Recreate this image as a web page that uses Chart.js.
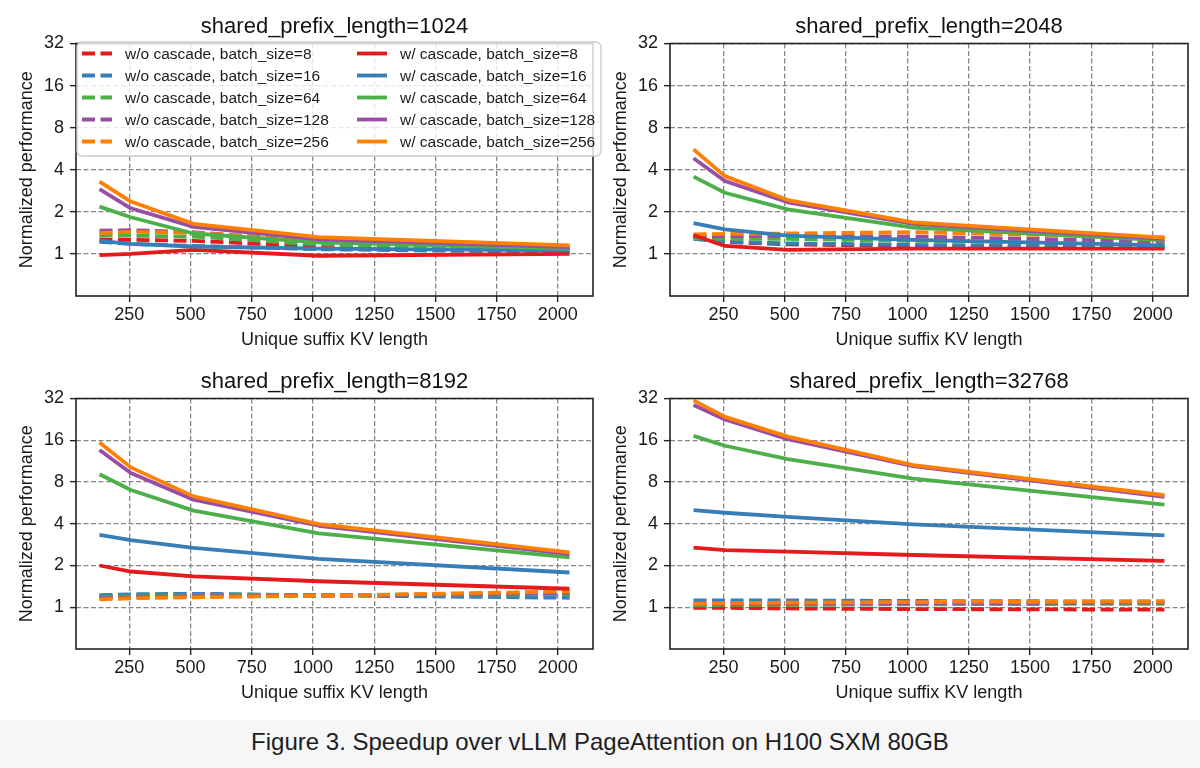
<!DOCTYPE html>
<html>
<head>
<meta charset="utf-8">
<title>Speedup over vLLM PageAttention</title>
<script src="https://cdn.jsdelivr.net/npm/chart.js@4.4.1/dist/chart.umd.min.js"></script>
<style>
  body { margin: 0; width: 1200px; height: 768px; background: #fff; position: relative; overflow: hidden;
         font-family: "Liberation Sans", Arial, Helvetica, sans-serif; }
  .panel { position: absolute; }
  #caption { position: absolute; left: 0; top: 720px; width: 1200px; height: 48px; background: #f6f6f6;
             text-align: center; line-height: 44px; font-size: 24px; color: #1d1d1f; }
</style>
</head>
<body>
<div class="panel" style="left:0;top:0;width:606px;height:356px"><canvas id="p1024"></canvas></div>
<div class="panel" style="left:594px;top:0;width:606px;height:356px"><canvas id="p2048"></canvas></div>
<div class="panel" style="left:0;top:354.5px;width:606px;height:354px"><canvas id="p8192"></canvas></div>
<div class="panel" style="left:594px;top:354.5px;width:606px;height:354px"><canvas id="p32768"></canvas></div>
<div id="caption">Figure 3. Speedup over vLLM PageAttention on H100 SXM 80GB</div>
<script>
'use strict';
// x values (unique suffix KV length) and batch sizes
var suffixLengths = [128, 256, 512, 1024, 2048];
var batchSizes = [8, 16, 64, 128, 256];
var xTicks = [250, 500, 750, 1000, 1250, 1500, 1750, 2000];
var yTicks = [1, 2, 4, 8, 16, 32];

// one row per batch size (8, 16, 64, 128, 256)
var noCascade1024 = [
  [1.27, 1.26, 1.24, 1.13, 1.05],
  [1.22, 1.18, 1.14, 1.08, 1.03],
  [1.36, 1.35, 1.33, 1.17, 1.08],
  [1.47, 1.48, 1.43, 1.23, 1.10],
  [1.41, 1.44, 1.42, 1.23, 1.12]
];
var cascade1024 = [
  [0.98, 1.00, 1.07, 0.97, 1.00],
  [1.24, 1.18, 1.13, 1.09, 1.06],
  [2.18, 1.83, 1.40, 1.21, 1.09],
  [2.91, 2.12, 1.56, 1.27, 1.12],
  [3.29, 2.37, 1.64, 1.32, 1.15]
];
var noCascade2048 = [
  [1.32, 1.22, 1.17, 1.14, 1.11],
  [1.28, 1.22, 1.19, 1.16, 1.12],
  [1.29, 1.28, 1.28, 1.24, 1.17],
  [1.34, 1.34, 1.35, 1.33, 1.23],
  [1.38, 1.39, 1.40, 1.43, 1.31]
];
var cascade2048 = [
  [1.36, 1.14, 1.07, 1.09, 1.09],
  [1.66, 1.50, 1.35, 1.26, 1.15],
  [3.57, 2.74, 2.08, 1.54, 1.25],
  [4.83, 3.32, 2.34, 1.64, 1.28],
  [5.60, 3.60, 2.43, 1.68, 1.31]
];
var noCascade8192 = [
  [1.20, 1.22, 1.24, 1.22, 1.22],
  [1.22, 1.24, 1.25, 1.22, 1.17],
  [1.18, 1.20, 1.22, 1.22, 1.24],
  [1.16, 1.18, 1.20, 1.21, 1.27],
  [1.14, 1.16, 1.18, 1.21, 1.30]
];
var cascade8192 = [
  [2.00, 1.81, 1.67, 1.54, 1.36],
  [3.32, 3.05, 2.68, 2.23, 1.78],
  [9.1, 7.0, 4.97, 3.41, 2.29],
  [13.6, 9.3, 5.96, 3.87, 2.42],
  [15.4, 10.2, 6.3, 3.98, 2.49]
];
var noCascade32768 = [
  [0.99, 0.99, 0.98, 0.97, 0.96],
  [1.12, 1.12, 1.12, 1.11, 1.10],
  [1.03, 1.04, 1.04, 1.05, 1.06],
  [1.05, 1.06, 1.06, 1.07, 1.08],
  [1.06, 1.07, 1.08, 1.09, 1.10]
];
var cascade32768 = [
  [2.69, 2.58, 2.52, 2.38, 2.16],
  [5.01, 4.80, 4.49, 3.96, 3.30],
  [17.2, 14.6, 11.7, 8.45, 5.50],
  [28.7, 22.6, 16.3, 10.4, 6.24],
  [31.0, 23.6, 17.0, 10.6, 6.42]
];

var family = '"Liberation Sans", Arial, Helvetica, sans-serif';
var colors = ['#e41a1c', '#377eb8', '#4daf4a', '#984ea3', '#ff7f00'];
var dashed = [13, 5.5];

Chart.defaults.font.family = family;
Chart.defaults.color = '#1a1a1a';
Chart.defaults.animation = false;

function makeDatasets(noCascade, cascade) {
  var sets = [];
  var groups = [noCascade, cascade];
  for (var k = 0; k < 2; k++) {
    for (var b = 0; b < batchSizes.length; b++) {
      var idx = k * batchSizes.length + b;
      var vals = groups[k][b];
      sets.push({
        label: (k === 0 ? 'w/o cascade' : 'w/ cascade') + ', batch_size=' + batchSizes[b],
        data: suffixLengths.map(function (x, i) { return {x: x, y: vals[i]}; }),
        borderColor: colors[b],
        backgroundColor: colors[b],
        borderWidth: 3.8,
        borderDash: k === 0 ? dashed : [],
        borderJoinStyle: 'round',
        pointRadius: 0,
        pointHoverRadius: 0,
        fill: false,
        tension: 0,
        order: 20 - idx   // later series drawn on top, like matplotlib
      });
    }
  }
  return sets;
}

// axes frame on all four sides
var framePlugin = {
  id: 'frame',
  afterDraw: function (chart) {
    var a = chart.chartArea, ctx = chart.ctx;
    ctx.save();
    ctx.strokeStyle = '#222';
    ctx.lineWidth = 1.6;
    ctx.strokeRect(a.left, a.top, a.right - a.left, a.bottom - a.top);
    ctx.restore();
  }
};

// two-column matplotlib style legend inside the first panel
var boxLegend = {
  id: 'boxLegend',
  afterDraw: function (chart, args, opts) {
    if (!opts.show) return;
    var a = chart.chartArea, ctx = chart.ctx;
    var left = a.left + 1, top = a.top - 1.5;
    ctx.save();
    ctx.beginPath();
    ctx.roundRect(left, top, 524, 114, 5);
    ctx.fillStyle = 'rgba(255,255,255,0.8)';
    ctx.fill();
    ctx.strokeStyle = '#cccccc';
    ctx.lineWidth = 1.3;
    ctx.stroke();
    chart.data.datasets.forEach(function (ds, i) {
      var col = Math.floor(i / 5), row = i % 5;
      var x0 = left + 5 + col * 275, y = top + 11.5 + row * 22;
      ctx.beginPath();
      ctx.setLineDash(ds.borderDash);
      ctx.strokeStyle = ds.borderColor;
      ctx.lineWidth = ds.borderWidth;
      ctx.moveTo(x0, y);
      ctx.lineTo(x0 + 30, y);
      ctx.stroke();
      ctx.setLineDash([]);
      ctx.fillStyle = '#1a1a1a';
      ctx.font = '15.5px ' + family;
      ctx.textBaseline = 'middle';
      ctx.fillText(ds.label, x0 + 43, y + 1);
    });
    ctx.restore();
  }
};

function makeChart(id, prefix, noCascade, cascade, padRight, withLegend) {
  var gridOpts = { color: '#868686', lineWidth: 1.3, tickLength: 6, tickColor: '#222', tickWidth: 1.4 };
  return new Chart(document.getElementById(id), {
    type: 'line',
    data: { datasets: makeDatasets(noCascade, cascade) },
    options: {
      responsive: true,
      maintainAspectRatio: false,
      layout: { padding: { left: 0, right: padRight, top: 0, bottom: 0 } },
      plugins: {
        legend: { display: false },
        tooltip: { enabled: false },
        title: {
          display: true,
          fullSize: false,
          text: 'shared_prefix_length=' + prefix,
          color: '#111',
          font: { size: 22, weight: 'normal' },
          padding: { top: 13.8, bottom: 3.3 }
        },
        boxLegend: { show: withLegend }
      },
      scales: {
        x: {
          type: 'linear',
          min: 32,
          max: 2144,
          afterBuildTicks: function (s) { s.ticks = xTicks.map(function (v) { return {value: v}; }); },
          afterFit: function (s) { s.height = 60; },
          ticks: { font: { size: 18 }, padding: 2, maxRotation: 0, autoSkip: false,
                   callback: function (v) { return String(v); } },
          grid: gridOpts,
          border: { display: false, dash: [5, 2.5] },
          title: { display: true, text: 'Unique suffix KV length', font: { size: 18 },
                   padding: { top: 0, bottom: 5 } }
        },
        y: {
          type: 'logarithmic',
          min: 0.5,
          max: 32,
          afterBuildTicks: function (s) { s.ticks = yTicks.map(function (v) { return {value: v}; }); },
          afterFit: function (s) { s.width = 76; },
          ticks: { font: { size: 18 }, padding: 6, autoSkip: false,
                   callback: function (v) { return String(v); } },
          grid: gridOpts,
          border: { display: false, dash: [5, 2.5] },
          title: { display: true, text: 'Normalized performance', font: { size: 18 },
                   padding: { top: 16, bottom: 0 } }
        }
      }
    },
    plugins: [framePlugin, boxLegend]
  });
}

makeChart('p1024', 1024, noCascade1024, cascade1024, 13, true);
makeChart('p2048', 2048, noCascade2048, cascade2048, 12, false);
makeChart('p8192', 8192, noCascade8192, cascade8192, 13, false);
makeChart('p32768', 32768, noCascade32768, cascade32768, 12, false);
</script>
</body>
</html>
